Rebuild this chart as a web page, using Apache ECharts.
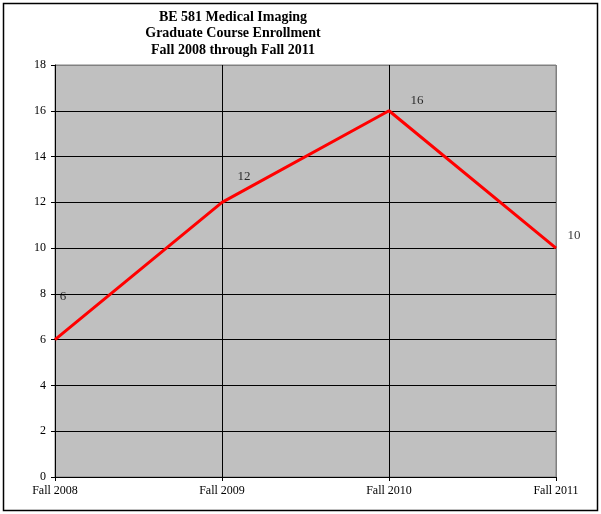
<!DOCTYPE html>
<html>
<head>
<meta charset="utf-8">
<script src="https://cdn.jsdelivr.net/npm/echarts@6/dist/echarts.min.js"></script>
<style>
  html, body { margin: 0; padding: 0; background: #fff; }
  #main { width: 601px; height: 514px; }
</style>
</head>
<body>
<div id="main"></div>
<script>
// 数据
var categories = ['Fall 2008', 'Fall 2009', 'Fall 2010', 'Fall 2011'];
var enrollment = [6, 12, 16, 10];
// 数据标签偏移（Excel 风格）
var labelOffsets = [[8, -43], [22, -26], [28, -10], [18, -13]];

var chart = echarts.init(document.getElementById('main'));
var serif = '"Liberation Serif", "DejaVu Serif", serif';

var seriesData = enrollment.map(function (v, i) {
    return {
        value: v,
        label: { offset: labelOffsets[i] }
    };
});

var ySplitColors = [];
for (var k = 0; k < 9; k++) ySplitColors.push('#000');
ySplitColors.push('#808080');

chart.setOption({
    backgroundColor: '#fff',
    animation: false,
    title: {
        text: 'BE 581 Medical Imaging\nGraduate Course Enrollment\nFall 2008 through Fall 2011',
        left: 228,
        top: 4,
        textAlign: 'center',
        textStyle: {
            fontFamily: serif,
            fontWeight: 'bold',
            fontSize: 14,
            lineHeight: 16.5,
            color: '#000'
        }
    },
    graphic: [{
        type: 'rect',
        shape: { x: 3.5, y: 3.5, width: 594, height: 507 },
        style: { fill: 'none', stroke: '#000', lineWidth: 1.5 },
        silent: true
    }],
    grid: {
        left: 55, right: 45, top: 65, bottom: 37,
        show: true,
        backgroundColor: '#C0C0C0',
        borderColor: '#808080',
        borderWidth: 1
    },
    xAxis: {
        type: 'category',
        data: categories,
        boundaryGap: false,
        axisLine: { lineStyle: { color: '#000', width: 1 } },
        axisTick: { show: true, length: 4, lineStyle: { color: '#000' } },
        axisLabel: {
            fontFamily: serif, fontSize: 12, color: '#000', margin: 8,
            interval: 0
        },
        splitLine: {
            show: true,
            lineStyle: { color: ['#000', '#000', '#000', '#808080'], width: 1 }
        }
    },
    yAxis: {
        type: 'value',
        min: 0, max: 18, interval: 2,
        axisLine: { show: true, lineStyle: { color: '#000', width: 1 } },
        axisTick: { show: true, length: 4, lineStyle: { color: '#000' } },
        axisLabel: { fontFamily: serif, fontSize: 12, color: '#000', margin: 9 },
        splitLine: {
            show: true,
            lineStyle: { color: ySplitColors, width: 1 }
        }
    },
    series: [{
        type: 'line',
        data: enrollment,
        symbol: 'none',
        lineStyle: { color: '#FF0000', width: 3 },
        z: 3
    }, {
        // 数据标签
        type: 'scatter',
        data: seriesData,
        symbolSize: 2,
        itemStyle: { color: 'rgba(0,0,0,0)' },
        label: {
            show: true,
            position: 'inside',
            fontFamily: serif,
            fontSize: 13,
            color: '#000'
        },
        z: 4
    }]
});
</script>
</body>
</html>
